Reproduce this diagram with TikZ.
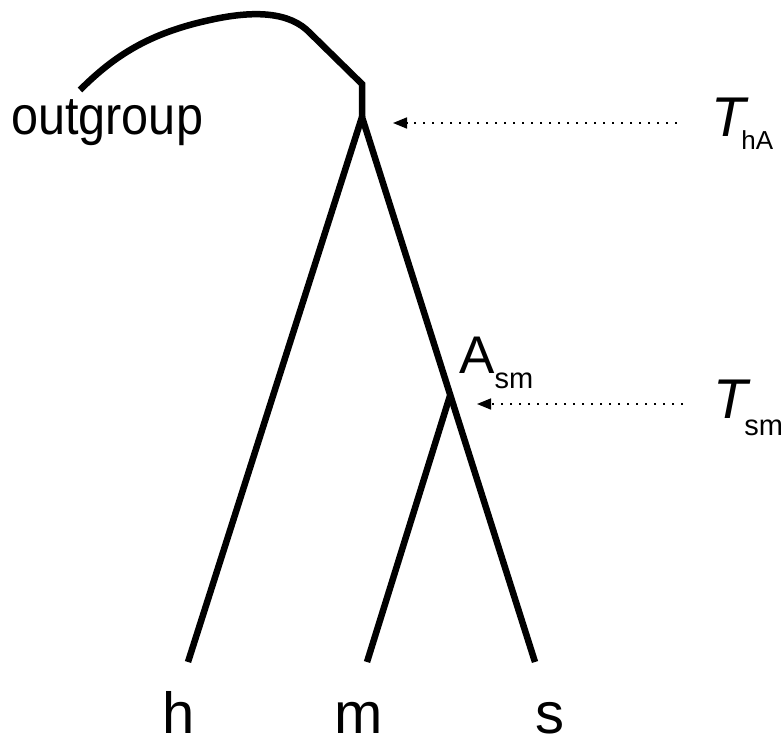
\documentclass[tikz,border=0pt]{standalone}
\usepackage{fontspec}
\setmainfont{Liberation Sans}
\usetikzlibrary{arrows.meta, positioning, calc}

\begin{document}
\begin{tikzpicture}[
    x=1pt, y=-1pt,
    branch/.style={line width=6.5pt, black},
    leaf/.style={anchor=base, inner sep=0pt, font=\fontsize{58}{58}\selectfont},
    tlabel/.style={anchor=base west, inner sep=0pt},
    timearr/.style={-{Triangle[length=14pt, width=11pt]}, line width=1.6pt,
        dash pattern=on 1.6pt off 7.4pt}
]
\useasboundingbox (0,0) rectangle (781,738);
% tree points
\coordinate (root) at (362,117);
\coordinate (kink) at (362,84);
\coordinate (bend) at (310,33);
\coordinate (og) at (80,90);
\coordinate (h-tip) at (188,662);
\coordinate (m-tip) at (367,662);
\coordinate (s-tip) at (535,662);
\coordinate (asm) at ($(root)!0.51!(s-tip)$);
% branches
\draw[branch] (root) -- (h-tip);
\draw[branch] (root) -- (s-tip);
\draw[branch] (asm) -- (m-tip);
\draw[branch] (root) -- (kink) -- (bend)
    .. controls (290,12) and (255,10) .. (210,20)
    .. controls (150,33) and (115,55) .. (og);
% labels
\node[tlabel, font=\fontsize{54}{54}\selectfont] (outgroup) at (11,135)
    {\scalebox{0.9}[1]{outgroup}};
\node[leaf] (h) at (179,733) {h};
\node[leaf] (m) at (359,733) {m};
\node[leaf] (s) at (550,733) {s};
\node[tlabel] (Asm) at (459,373)
    {\fontsize{53}{53}\selectfont A\raisebox{-15pt}{\fontsize{29}{29}\selectfont sm}};
\node[tlabel] (ThA) at (711,137)
    {\fontsize{56}{56}\selectfont\itshape T\kern-4pt\raisebox{-13pt}{\upshape\fontsize{26}{26}\selectfont hA}};
\node[tlabel] (Tsm) at (713,418)
    {\fontsize{56}{56}\selectfont\itshape T\kern-3pt\raisebox{-17pt}{\upshape\fontsize{29}{29}\selectfont sm}};
% time arrows
\coordinate (thA-from) at (677,123);
\coordinate (thA-to) at (393,123);
\coordinate (tsm-from) at (683,404);
\coordinate (tsm-to) at (477,404);
\draw[timearr] (thA-from) -- (thA-to);
\draw[timearr] (tsm-from) -- (tsm-to);
\end{tikzpicture}
\end{document}
